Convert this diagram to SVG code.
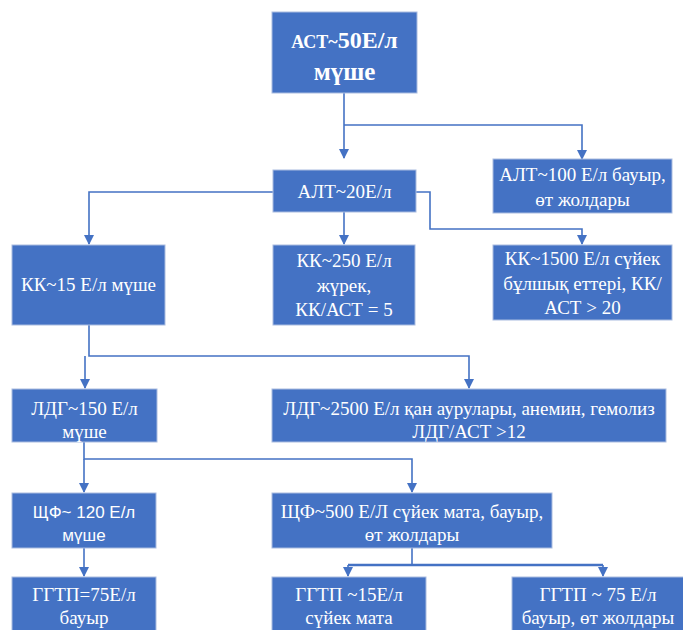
<svg xmlns="http://www.w3.org/2000/svg" width="683" height="630" viewBox="0 0 683 630">
  <style>
    .box { fill: #4472C4; stroke: #A9BCE0; stroke-width: 1; }
    .t { fill: #FFFFFF; font-family: "Liberation Serif", "Times New Roman", serif; font-size: 19px; text-anchor: middle; }
    .s { font-family: "Liberation Sans", Arial, sans-serif; font-size: 17px; }
    .b { font-weight: bold; }
    .big { font-size: 25px; }
    .con { fill: none; stroke: #4472C4; stroke-width: 1.6; }
  </style>
  <defs>
    <marker id="arr" markerWidth="10" markerHeight="10" refX="9" refY="5" orient="auto" markerUnits="userSpaceOnUse">
      <path d="M0,0 L10,5 L0,10 Z" fill="#4472C4"/>
    </marker>
  </defs>
  <rect width="683" height="630" fill="#FFFFFF"/>

  <g id="connectors">
    <path class="con" d="M344,93 V158" marker-end="url(#arr)"/>
    <path class="con" d="M344,125 H582 V159" marker-end="url(#arr)"/>
    <path class="con" d="M273,192 H89 V244" marker-end="url(#arr)"/>
    <path class="con" d="M344,212 V244" marker-end="url(#arr)"/>
    <path class="con" d="M416,192 H430 V229 H582 V244" marker-end="url(#arr)"/>
    <path class="con" d="M89,325 V356 H469 V388" marker-end="url(#arr)"/>
    <path class="con" d="M85,356 V388" marker-end="url(#arr)"/>
    <path class="con" d="M84,442 V459 H412 V492" marker-end="url(#arr)"/>
    <path class="con" d="M84,459 V492" marker-end="url(#arr)"/>
    <path class="con" d="M84,548 V576" marker-end="url(#arr)"/>
    <path class="con" d="M412,548 V565" />
    <path class="con" d="M348,565 H603" style="stroke-width:2.6"/>
    <path class="con" d="M348,565 V576" marker-end="url(#arr)"/>
    <path class="con" d="M603,565 V576" marker-end="url(#arr)"/>
  </g>

  <g id="ast">
    <rect class="box" x="272" y="12" width="145" height="81"/>
    <text class="t b" x="344.5" y="48"><tspan style="font-size:18px">АСТ~</tspan><tspan style="font-size:24px">50Е/л</tspan></text>
    <text class="t b big" x="344.5" y="80">мүше</text>
  </g>

  <g id="alt20">
    <rect class="box" x="273" y="170" width="143" height="42"/>
    <text class="t" x="344.5" y="198">АЛТ~20Е/л</text>
  </g>

  <g id="alt100">
    <rect class="box" x="493" y="159" width="179" height="54"/>
    <text class="t" x="582.5" y="181">АЛТ~100 Е/л бауыр,</text>
    <text class="t" x="582.5" y="206">өт жолдары</text>
  </g>

  <g id="kk15">
    <rect class="box" x="12" y="245" width="153" height="80"/>
    <text class="t" x="88.5" y="291">КК~15 Е/л мүше</text>
  </g>

  <g id="kk250">
    <rect class="box" x="273" y="245" width="142" height="80"/>
    <text class="t" x="344" y="267">КК~250 Е/л</text>
    <text class="t" x="344" y="292">жүрек,</text>
    <text class="t" x="344" y="316">КК/АСТ = 5</text>
  </g>

  <g id="kk1500">
    <rect class="box" x="493" y="245" width="179" height="75"/>
    <text class="t" x="582.5" y="265">КК~1500 Е/л сүйек</text>
    <text class="t" x="582.5" y="290">бұлшық еттері, КК/</text>
    <text class="t" x="582.5" y="314">АСТ &gt; 20</text>
  </g>

  <g id="ldg150">
    <rect class="box" x="12" y="389" width="145" height="53"/>
    <text class="t" x="84.5" y="415">ЛДГ~150 Е/л</text>
    <text class="t" x="84.5" y="438">мүше</text>
  </g>

  <g id="ldg2500">
    <rect class="box" x="272" y="389" width="394" height="53"/>
    <text class="t" x="469" y="415">ЛДГ~2500 Е/л қан аурулары, анемин, гемолиз</text>
    <text class="t" x="469" y="438">ЛДГ/АСТ &gt;12</text>
  </g>

  <g id="shf120">
    <rect class="box" x="12" y="493" width="144" height="55"/>
    <text class="t s" x="84" y="518">ЩФ~ 120 Е/л</text>
    <text class="t s" x="84" y="541">мүше</text>
  </g>

  <g id="shf500">
    <rect class="box" x="272" y="493" width="280" height="55"/>
    <text class="t" x="412" y="518">ЩФ~500 Е/Л сүйек мата, бауыр,</text>
    <text class="t" x="412" y="541">өт жолдары</text>
  </g>

  <g id="ggtp75">
    <rect class="box" x="12" y="577" width="144" height="60"/>
    <text class="t" x="84" y="601">ГГТП=75Е/л</text>
    <text class="t" x="84" y="624">бауыр</text>
  </g>

  <g id="ggtp15">
    <rect class="box" x="272" y="577" width="154" height="60"/>
    <text class="t" x="349" y="601">ГГТП ~15Е/л</text>
    <text class="t" x="349" y="624">сүйек мата</text>
  </g>

  <g id="ggtp75b">
    <rect class="box" x="512" y="577" width="172" height="60"/>
    <text class="t" x="598" y="601">ГГТП ~ 75 Е/л</text>
    <text class="t" x="598" y="624">бауыр, өт жолдары</text>
  </g>
</svg>
